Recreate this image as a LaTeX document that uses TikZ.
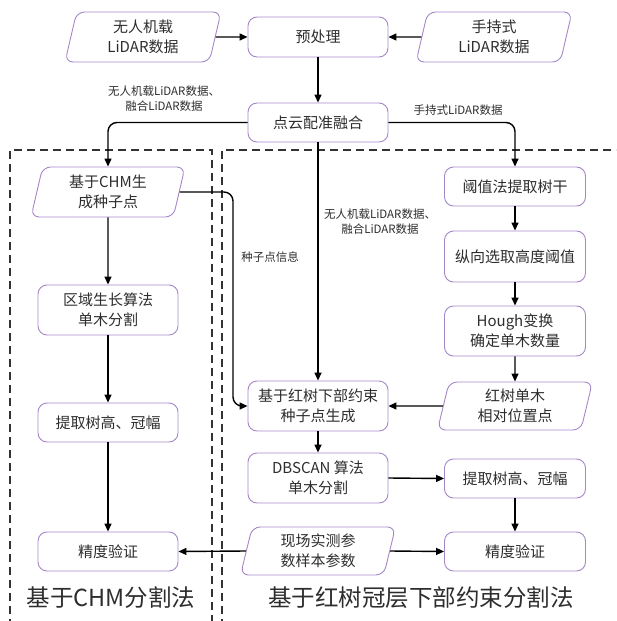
\documentclass[tikz,border=0pt]{standalone}
\usepackage{fontspec}
\setmainfont{Noto Sans CJK SC}
\usetikzlibrary{arrows.meta,shapes.geometric}
\definecolor{bord}{RGB}{165,135,200}
\definecolor{txt}{RGB}{45,45,45}
\tikzset{
  box/.style={draw=bord, line width=0.9pt, rounded corners=9pt, align=center,
    minimum width=140pt, minimum height=40pt, inner sep=2pt, text=txt,
    font=\fontsize{15}{20}\selectfont},
  para/.style={draw=bord, line width=0.9pt, rounded corners=8pt, align=center,
    trapezium, trapezium left angle=72, trapezium right angle=108,
    trapezium stretches body, minimum width=156pt, minimum height=50pt,
    inner sep=1pt, text=txt, font=\fontsize{15}{20}\selectfont},
  lbl/.style={align=center, text=txt, font=\fontsize{11.5}{15}\selectfont, inner sep=0pt},
  ttl/.style={text=txt, font=\fontsize{23.5}{28}\selectfont, inner sep=0pt},
  arr/.style={line width=1.4pt, -{Triangle[length=8pt,width=7pt]}, rounded corners=9pt},
  dbox/.style={line width=1.1pt, draw=black!80, dash pattern=on 8pt off 5pt}
}
\begin{document}
\begin{tikzpicture}[x=1pt,y=-1pt]
\useasboundingbox (0,0) rectangle (616,621);
\begin{scope}
\clip (0,0) rectangle (616,621);
\draw[dbox] (10,640) -- (10,150) -- (212,150) -- (212,640);
\draw[dbox] (222,640) -- (222,150) -- (640,150);
\end{scope}

% nodes
\node[para] (inL) at (143,37) {无人机载\\LiDAR数据};
\node[box] (pre) at (318,37) {预处理};
\node[para] (inR) at (494,37) {手持式\\LiDAR数据};
\node[box, minimum height=39pt] (fuse) at (318,122.5) {点云配准融合};

\node[para, minimum width=154pt] (chm) at (108,192) {基于CHM生\\成种子点};
\node[box, minimum height=50pt] (region) at (108,310) {区域生长算法\\单木分割};
\node[box, minimum height=39pt] (htL) at (108,422.5) {提取树高、冠幅};
\node[box, minimum height=39pt] (accL) at (108,551.5) {精度验证};

\node[box, minimum width=141pt, minimum height=39pt] (thr) at (515,186.5) {阈值法提取树干};
\node[box, minimum width=141pt, minimum height=51pt] (vert) at (515,256.5) {纵向选取高度阈值};
\node[box, minimum width=141pt, minimum height=50pt] (hough) at (515,331) {Hough变换\\确定单木数量};
\node[para, minimum width=155pt, minimum height=48pt] (rel) at (515,406) {红树单木\\相对位置点};

\node[box, minimum height=50pt] (seed) at (318,406) {基于红树下部约束\\种子点生成};
\node[box, minimum height=50pt] (dbscan) at (318,478) {DBSCAN 算法\\单木分割};
\node[box, minimum width=141pt, minimum height=39pt] (htR) at (515,478.5) {提取树高、冠幅};
\node[para, minimum width=155pt, minimum height=48pt] (field) at (318,551) {现场实测参\\数样本参数};
\node[box, minimum width=141pt, minimum height=39pt] (accR) at (515,551.5) {精度验证};

% labels
\node[lbl] (l1) at (164,99) {无人机载LiDAR数据、\\融合LiDAR数据};
\node[lbl] (l2) at (458,110) {手持式LiDAR数据};
\node[lbl] (l3) at (270,257) {种子点信息};
\node[lbl] (l4) at (380,222) {无人机载LiDAR数据、\\融合LiDAR数据};
\node[ttl] (t1) at (111,598) {基于CHM分割法};
\node[ttl] (t2) at (421,598) {基于红树冠层下部约束分割法};

\coordinate (bend) at (233,406);

% connectors
\draw[arr] (inL.east) -- (pre.west);
\draw[arr] (inR.west) -- (pre.east);
\draw[arr] (pre.south) -- (fuse.north);
\draw[arr] (fuse.west) -| (chm.north);
\draw[arr] (fuse.east) -| (thr.north);
\draw[arr] (fuse.south) -- (seed.north);
\draw[arr] (chm.east) -| (bend) -- (seed.west);
\draw[arr] (chm.south) -- (region.north);
\draw[arr] (region.south) -- (htL.north);
\draw[arr] (htL.south) -- (accL.north);
\draw[arr] (thr.south) -- (vert.north);
\draw[arr] (vert.south) -- (hough.north);
\draw[arr] (hough.south) -- (rel.north);
\draw[arr] (rel.west) -- (seed.east);
\draw[arr] (seed.south) -- (dbscan.north);
\draw[arr] (dbscan.east) -- (htR.west);
\draw[arr] (htR.south) -- (accR.north);
\draw[arr] (field.west) -- (accL.east);
\draw[arr] (field.east) -- (accR.west);
\end{tikzpicture}
\end{document}
